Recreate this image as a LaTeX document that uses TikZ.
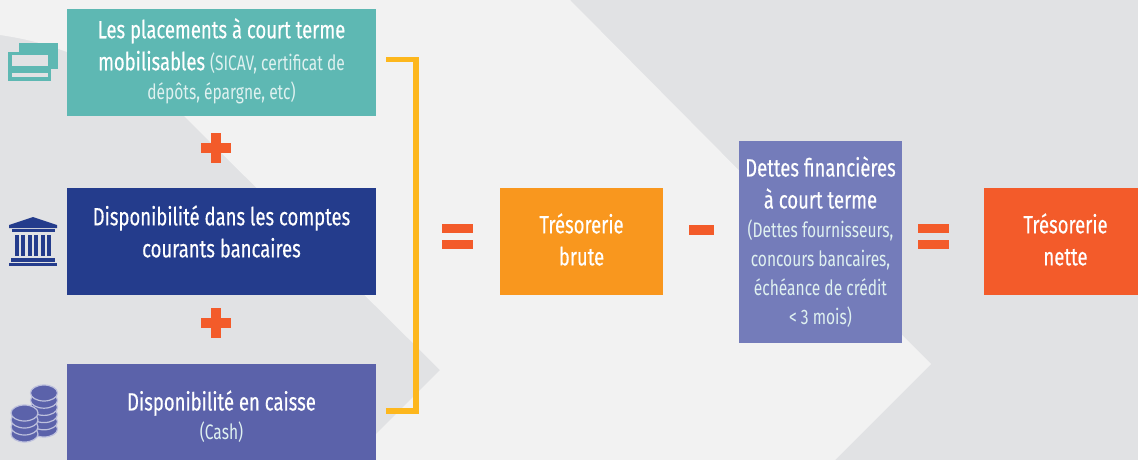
\documentclass[tikz,border=0pt]{standalone}
\usepackage{fontspec}
\setmainfont[FakeStretch=0.74]{Fira Sans}
\newfontfamily\grasf[FakeStretch=0.74, FakeBold=0.35]{Fira Sans}
\usetikzlibrary{calc, positioning}
\definecolor{fond}{HTML}{e1e2e4}
\definecolor{clair}{HTML}{f2f2f2}
\definecolor{t1}{HTML}{5eb8b3}
\definecolor{n1}{HTML}{243c8c}
\definecolor{v1}{HTML}{5b62aa}
\definecolor{v2}{HTML}{747cba}
\definecolor{o1}{HTML}{f9971e}
\definecolor{r1}{HTML}{f35b2a}
\definecolor{y1}{HTML}{fdb71d}
\tikzset{
	boite/.style={inner sep=0pt, minimum width=#1},
	texte/.style={text=white, align=center, inner sep=0pt, font=\grasf\fontsize{25}{32}\selectfont},
}
\newcommand{\petit}[1]{{\normalfont\fontsize{21}{29}\selectfont\color{white!80!t1}#1}}
\begin{document}
\begin{tikzpicture}[x=1pt, y=-1pt]
		\useasboundingbox (0, 0) rectangle (1138, 460);
		\fill[fond] (0, 0) rectangle (1138, 460);
		\fill[clair] (0, 0) -- (570, 0) -- (931, 364) -- (835, 460) -- (350, 460) -- (440, 370) -- (180, 112) -- (67, 52) .. controls (40, 42) and (20, 38) .. (0, 35) -- cycle;
		
		\node[boite=309pt, minimum height=107pt, fill=t1] (placements) at (221.5, 62.5) {};
		\node[boite=309pt, minimum height=107pt, fill=n1] (comptes) at (221.5, 241.5) {};
		\node[boite=309pt, minimum height=96pt, fill=v1] (caisse) at (221.5, 412) {};
		\node[boite=163pt, minimum height=107pt, fill=o1] (brute) at (581.5, 241.5) {};
		\node[boite=163pt, minimum height=202pt, fill=v2] (dettes) at (820.5, 242) {};
		\node[boite=154pt, minimum height=107pt, fill=r1] (nette) at (1061, 241.5) {};
		
		\node[texte] (placementsT) at ($(placements) + (0, -1.5)$) {Les placements à court terme\\mobilisables \petit{(SICAV, certificat de}\\[-3pt]\petit{dépôts, épargne, etc)}};
		\node[texte] (comptesT) at ($(comptes) + (0, -10)$) {Disponibilité dans les comptes\\courants bancaires};
		\node[texte] (caisseT) at ($(caisse) + (0, 4.5)$) {Disponibilité en caisse\\[-3pt]\petit{(Cash)}};
		\node[texte] (bruteT) at ($(brute) + (0, -2)$) {Trésorerie\\brute};
		\node[texte] (dettesT) at ($(dettes) + (0, 0)$) {Dettes financières\\à court terme\\[-3pt]\petit{(Dettes fournisseurs,}\\[-3pt]\petit{concours bancaires,}\\[-3pt]\petit{échéance de crédit}\\[-3pt]\petit{< 3 mois)}};
		\node[texte] (netteT) at ($(nette) + (4.5, -2)$) {Trésorerie\\nette};
		
		% accolade
		\coordinate (A1) at ($(placements.east) + (10, -3.2)$);
		\coordinate (A2) at ($(caisse.east) + (10, -1)$);
		\coordinate (A3) at (416, 59.3);
		\draw[y1, line width=5.3pt] (A1) -- (A3) -- (A3 |- A2) -- (A2);
		
		% plus
		\foreach \y in {148, 323} {
			\fill[r1] (200.7, \y-5) rectangle (230.7, \y+5);
			\fill[r1] (210.7, \y-15) rectangle (220.7, \y+15);
		}
		% egal
		\foreach \x in {442, 918} {
			\fill[r1] (\x, 224) rectangle (\x+30.5, 233);
			\fill[r1] (\x, 240) rectangle (\x+30.5, 249);
		}
		% moins
		\fill[r1] (689, 225) rectangle (713.5, 235);
		
		% billets
		\fill[t1] (19, 43) rectangle (58, 69);
		\fill[t1] (8, 52) rectangle (51, 81);
		\fill[fond] (12, 55) rectangle (48, 66);
		\fill[fond] (12, 73) rectangle (48, 77);
		
		% banque
		\fill[n1] (33, 217) -- (57, 225) -- (57, 228) -- (9, 228) -- (9, 225) -- cycle;
		\fill[n1] (12, 229) rectangle (55, 232);
		\foreach \x in {15, 21.4, 27.8, 34.2, 40.6, 47} {
			\fill[n1] (\x, 235) rectangle (\x+4, 256);
		}
		\fill[n1] (11, 258) rectangle (55, 262);
		\fill[n1] (9, 263) rectangle (57, 266);
		
		% pieces
		\foreach \y in {429, 421.8, 414.6, 407.4, 400.2, 393} {
			\filldraw[draw=white!60!v1, fill=v1, line width=1.2pt] (44, \y) ellipse[x radius=13.5, y radius=8];
		}
		\foreach \y in {434, 427, 420, 413} {
			\filldraw[draw=white!60!v1, fill=v1, line width=1.2pt] (24.5, \y) ellipse[x radius=13.5, y radius=8];
		}
	\end{tikzpicture}
\end{document}
